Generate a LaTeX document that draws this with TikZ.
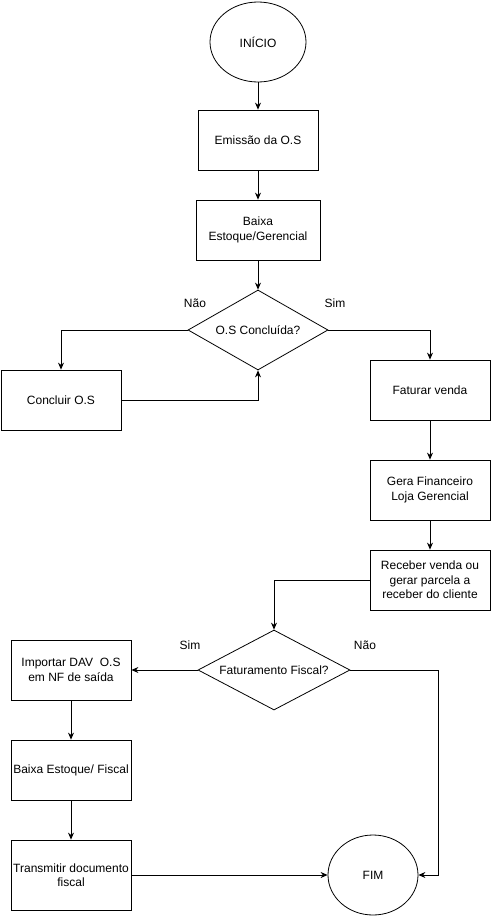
\documentclass[tikz,border=0pt]{standalone}
\usepackage{fontspec}
\setmainfont{Liberation Sans}
\usetikzlibrary{shapes.geometric,arrows.meta}
\tikzset{
  box/.style={draw, rectangle, minimum width=120pt, minimum height=60pt, inner sep=1pt, align=center},
  term/.style={draw, ellipse, minimum width=96pt, minimum height=80pt, inner sep=0pt},
  decision/.style={draw, diamond, aspect=1.75, minimum width=140pt, minimum height=80pt, inner sep=0pt},
  flow/.style={-{Stealth[length=7pt,width=6pt]}},
}
\begin{document}
\begin{tikzpicture}[x=1pt,y=-1pt,line width=0.8pt,font=\fontsize{12}{14.5}\selectfont]
        \useasboundingbox (0,0) rectangle (491,916);
        \node [term] (inicio) at (258,42) {INÍCIO};
        \node [box] (emissao) at (258,140) {Emissão da O.S};
        \node [box, minimum width=124pt] (baixaG) at (258,230) {Baixa\\Estoque/Gerencial};
        \node [decision] (osdec) at (258,330) {O.S Concluída?};
        \node [box] (concluir) at (61,400) {Concluir O.S};
        \node [box] (faturar) at (430,390) {Faturar venda};
        \node [box] (gera) at (430,490) {Gera Financeiro\\Loja Gerencial};
        \node [box] (receber) at (430,580) {Receber venda ou\\gerar parcela a\\receber do cliente};
        \node [decision, aspect=1.9, minimum width=152pt] (fiscal) at (274,670) {Faturamento Fiscal?};
        \node [box] (importar) at (71,670) {Importar DAV\ \ O.S\\em NF de saída};
        \node [box] (baixaF) at (71,770) {Baixa Estoque/ Fiscal};
        \node [box, minimum height=70pt] (transmitir) at (71,875) {Transmitir documento\\fiscal};
        \node [term, minimum width=90pt] (fim) at (373,875) {FIM};
        \coordinate (naoR) at (438,875);
        \node (naoA) at (195,303) {Não};
        \node (simA) at (335,303) {Sim};
        \node (simB) at (190,645) {Sim};
        \node (naoB) at (365,645) {Não};
        \draw [flow] (inicio) -- (emissao);
        \draw [flow] (emissao) -- (baixaG);
        \draw [flow] (baixaG) -- (osdec);
        \draw [flow] (osdec.west) -| (concluir.north);
        \draw [flow] (concluir.east) -| (osdec.south);
        \draw [flow] (osdec.east) -| (faturar.north);
        \draw [flow] (faturar) -- (gera);
        \draw [flow] (gera) -- (receber);
        \draw [flow] (receber.west) -| (fiscal.north);
        \draw [flow] (fiscal.west) -- (importar.east);
        \draw [flow] (importar) -- (baixaF);
        \draw [flow] (baixaF) -- (transmitir);
        \draw [flow] (transmitir) -- (fim);
        \draw [flow] (fiscal.east) -| (naoR) -- (fim.east);
      \end{tikzpicture}
\end{document}
